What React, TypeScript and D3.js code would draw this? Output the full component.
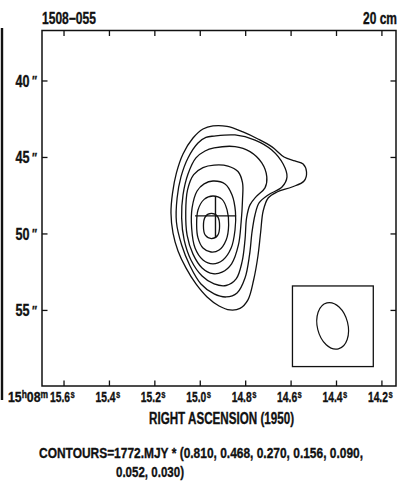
import React from "react";
import * as d3 from "d3";

const width = 412;
const height = 497;
const frame = { left: 42, right: 396, top: 30.5, bottom: 386 };

// axis ticks (RA seconds, Dec arcsec of -05 deg 5x')
const raTicks = [15.6, 15.4, 15.2, 15.0, 14.8, 14.6, 14.4, 14.2];
const raLabels = ["15.6", "15.4", "15.2", "15.0", "14.8", "14.6", "14.4", "14.2"];
const decTicks = [40, 45, 50, 55];
const decLabels = ["40", "45", "50", "55"];

const levels = [0.03, 0.052, 0.09, 0.156, 0.27, 0.468, 0.81];

// contour outlines [ra s, dec "], outermost first
const c030 = [
  [14.944, 42.94], [14.882, 42.97], [14.812, 43.33], [14.746, 43.79], [14.684, 44.31],
  [14.631, 44.97], [14.583, 45.23], [14.547, 45.43], [14.532, 45.95], [14.543, 46.54],
  [14.596, 46.93], [14.662, 47.26], [14.701, 47.65], [14.723, 48.5], [14.734, 49.87],
  [14.746, 51.44], [14.765, 53.01], [14.79, 54.31], [14.825, 54.87], [14.869, 54.97],
  [14.917, 54.71], [14.97, 54.12], [15.019, 53.27], [15.063, 52.22], [15.098, 51.11],
  [15.12, 49.94], [15.129, 48.63], [15.122, 47.32], [15.105, 46.01], [15.076, 44.77],
  [15.032, 43.73], [14.988, 43.14],
];
const c052 = [
  [14.939, 43.6], [14.847, 43.53], [14.759, 43.86], [14.685, 44.51], [14.635, 45.43],
  [14.618, 46.27], [14.64, 46.93], [14.701, 47.45], [14.741, 47.97], [14.759, 48.76],
  [14.772, 49.87], [14.783, 51.37], [14.803, 52.88], [14.838, 53.86], [14.886, 54.12],
  [14.939, 53.92], [14.997, 53.27], [15.045, 52.09], [15.082, 50.72], [15.105, 49.22],
  [15.102, 47.65], [15.085, 46.27], [15.054, 45.03], [15.01, 44.05], [14.975, 43.69],
];
const c090 = [
  [14.939, 44.38], [14.847, 44.29], [14.781, 44.62], [14.729, 45.36], [14.707, 46.27],
  [14.715, 46.99], [14.754, 47.56], [14.781, 48.1], [14.796, 48.95], [14.803, 50.39],
  [14.816, 51.83], [14.842, 52.94], [14.886, 53.37], [14.939, 53.27], [14.992, 52.75],
  [15.041, 51.7], [15.071, 50.39], [15.082, 48.95], [15.076, 47.45], [15.054, 46.08],
  [15.019, 45.03], [14.979, 44.58],
];
const c156 = [
  [14.939, 45.5], [14.878, 45.56], [14.834, 45.92], [14.814, 46.65], [14.814, 47.78],
  [14.82, 49.22], [14.832, 50.72], [14.862, 51.95], [14.904, 52.5], [14.944, 52.6],
  [14.992, 52.22], [15.032, 51.32], [15.058, 50.07], [15.064, 48.56], [15.056, 47.12],
  [15.029, 46.12], [14.988, 45.66],
];
const c270 = [
  [14.944, 46.54], [14.891, 46.73], [14.86, 47.45], [14.845, 48.56], [14.847, 49.74],
  [14.864, 50.92], [14.9, 51.7], [14.944, 51.96], [14.988, 51.7], [15.023, 50.92],
  [15.038, 49.61], [15.036, 48.3], [15.014, 47.19], [14.983, 46.73],
];
const c468 = [
  [14.944, 47.52], [14.904, 47.74], [14.882, 48.43], [14.875, 49.41], [14.886, 50.39],
  [14.917, 51.05], [14.953, 51.18], [14.988, 50.92], [15.01, 50.26], [15.016, 49.41],
  [15.01, 48.43], [14.983, 47.74],
];
const c810 = [
  [14.951, 48.66], [14.924, 48.86], [14.915, 49.48], [14.924, 50.1], [14.951, 50.3],
  [14.977, 50.1], [14.986, 49.48], [14.977, 48.86],
];
const contours = [c030, c052, c090, c156, c270, c468, c810];

// optical position cross
const crossCenter = [14.933, 48.82];
const crossRa = [15.023, 14.842];
const crossDec = [47.52, 50.25];

// restoring beam inset
const beamBoxRa = [14.594, 14.238];
const beamBoxDec = [53.4, 58.67];
const beamCenter = [14.417, 56.01];
const beamMajor = 3.1; // arcsec
const beamMinor = 2.0;
const beamAngle = -14;

const font = "'Liberation Sans', Arial, sans-serif";
const sx = 0.77; // condensed look

function CText(props: {
  x: number;
  y: number;
  size: number;
  w?: number;
  anchor?: string;
  italic?: boolean;
  children: React.ReactNode;
}) {
  const { x, y, size, w, anchor = "start", italic, children } = props;
  return (
    <text
      transform={`translate(${x},${y}) scale(${sx},1)`}
      fontSize={size}
      textAnchor={anchor}
      fontStyle={italic ? "italic" : undefined}
      textLength={w ? w / sx : undefined}
      lengthAdjust={w ? "spacingAndGlyphs" : undefined}
    >
      {children}
    </text>
  );
}

export default function App() {
  const x = d3.scaleLinear().domain([15.697, 14.138]).range([frame.left, frame.right]);
  const y = d3.scaleLinear().domain([36.7, 59.94]).range([frame.top, frame.bottom]);
  const pxPerArcsec = Math.abs(y(1) - y(0));

  const line = d3
    .line<number[]>()
    .x((d) => x(d[0]))
    .y((d) => y(d[1]))
    .curve(d3.curveCatmullRomClosed.alpha(0.5));

  const tickLen = 5.5;
  const contourText =
    "CONTOURS=1772.MJY * (" +
    levels.slice().reverse().slice(0, 5).map((v) => v.toFixed(3)).join(", ") +
    ",";
  const contourText2 = levels.slice(0, 2).reverse().map((v) => v.toFixed(3)).join(", ") + ")";

  return (
    <svg
      width={width}
      height={height}
      style={{ position: "absolute", left: 0, top: 0, background: "#fff" }}
      fontFamily={font}
      fontWeight="bold"
    >
      <rect width={width} height={height} fill="#fff" />
      {/* scan edge */}
      <line x1={2} x2={2} y1={28} y2={400} stroke="#111" strokeWidth={2.4} />

      <g fill="#111" stroke="#111" strokeWidth={0.35}>
        <CText x={42} y={24} size={16} w={54}>1508−055</CText>
        <CText x={397} y={24} size={16} w={34} anchor="end">20 cm</CText>

        {raTicks.map((t, i) => (
          <g key={"ral" + i}>
            <CText x={x(t) - 4} y={401.5} size={14.5} w={20} anchor="middle">
              {raLabels[i]}
            </CText>
            <CText x={x(t) + 6.5} y={397.5} size={10}>s</CText>
          </g>
        ))}
        <CText x={8} y={401.5} size={14.5} w={40}>
          15<tspan fontSize={10} dy={-4}>h</tspan>
          <tspan dy={4}>08</tspan>
          <tspan fontSize={10} dy={-4}>m</tspan>
        </CText>

        {decTicks.map((t, i) => (
          <g key={"decl" + i}>
            <CText x={29.5} y={y(t) + 6} size={16.5} w={14} anchor="end">
              {decLabels[i]}
            </CText>
            <CText x={31.5} y={y(t) + 4.5} size={13.5} italic>
              ″
            </CText>
          </g>
        ))}

        <CText x={221.5} y={423.5} size={16} w={145} anchor="middle">
          RIGHT ASCENSION (1950)
        </CText>

        <CText x={39} y={457.5} size={15.5} w={324}>{contourText}</CText>
        <CText x={116} y={476.5} size={15.5} w={68}>{contourText2}</CText>
      </g>

      <rect
        x={frame.left}
        y={frame.top}
        width={frame.right - frame.left}
        height={frame.bottom - frame.top}
        fill="none"
        stroke="#111"
        strokeWidth={1.5}
      />

      {raTicks.map((t, i) => (
        <g key={"ra" + i}>
          <line x1={x(t)} x2={x(t)} y1={frame.top} y2={frame.top + tickLen} stroke="#111" strokeWidth={1.3} />
          <line x1={x(t)} x2={x(t)} y1={frame.bottom} y2={frame.bottom - tickLen} stroke="#111" strokeWidth={1.3} />
        </g>
      ))}
      {decTicks.map((t, i) => (
        <g key={"dec" + i}>
          <line x1={frame.left} x2={frame.left + tickLen} y1={y(t)} y2={y(t)} stroke="#111" strokeWidth={1.3} />
          <line x1={frame.right} x2={frame.right - tickLen} y1={y(t)} y2={y(t)} stroke="#111" strokeWidth={1.3} />
        </g>
      ))}

      <g fill="none" stroke="#111" strokeWidth={1.3}>
        {contours.map((c, i) => (
          <path key={"c" + i} d={line(c) || ""} />
        ))}
      </g>

      <line x1={x(crossRa[0])} x2={x(crossRa[1])} y1={y(crossCenter[1])} y2={y(crossCenter[1])} stroke="#111" strokeWidth={1.4} />
      <line x1={x(crossCenter[0])} x2={x(crossCenter[0])} y1={y(crossDec[0])} y2={y(crossDec[1])} stroke="#111" strokeWidth={1.4} />

      <rect
        x={x(beamBoxRa[0])}
        y={y(beamBoxDec[0])}
        width={x(beamBoxRa[1]) - x(beamBoxRa[0])}
        height={y(beamBoxDec[1]) - y(beamBoxDec[0])}
        fill="none"
        stroke="#111"
        strokeWidth={1.3}
      />
      <ellipse
        cx={x(beamCenter[0])}
        cy={y(beamCenter[1])}
        rx={(beamMinor / 2) * pxPerArcsec}
        ry={(beamMajor / 2) * pxPerArcsec}
        transform={`rotate(${beamAngle} ${x(beamCenter[0])} ${y(beamCenter[1])})`}
        fill="none"
        stroke="#111"
        strokeWidth={1.2}
      />
    </svg>
  );
}
